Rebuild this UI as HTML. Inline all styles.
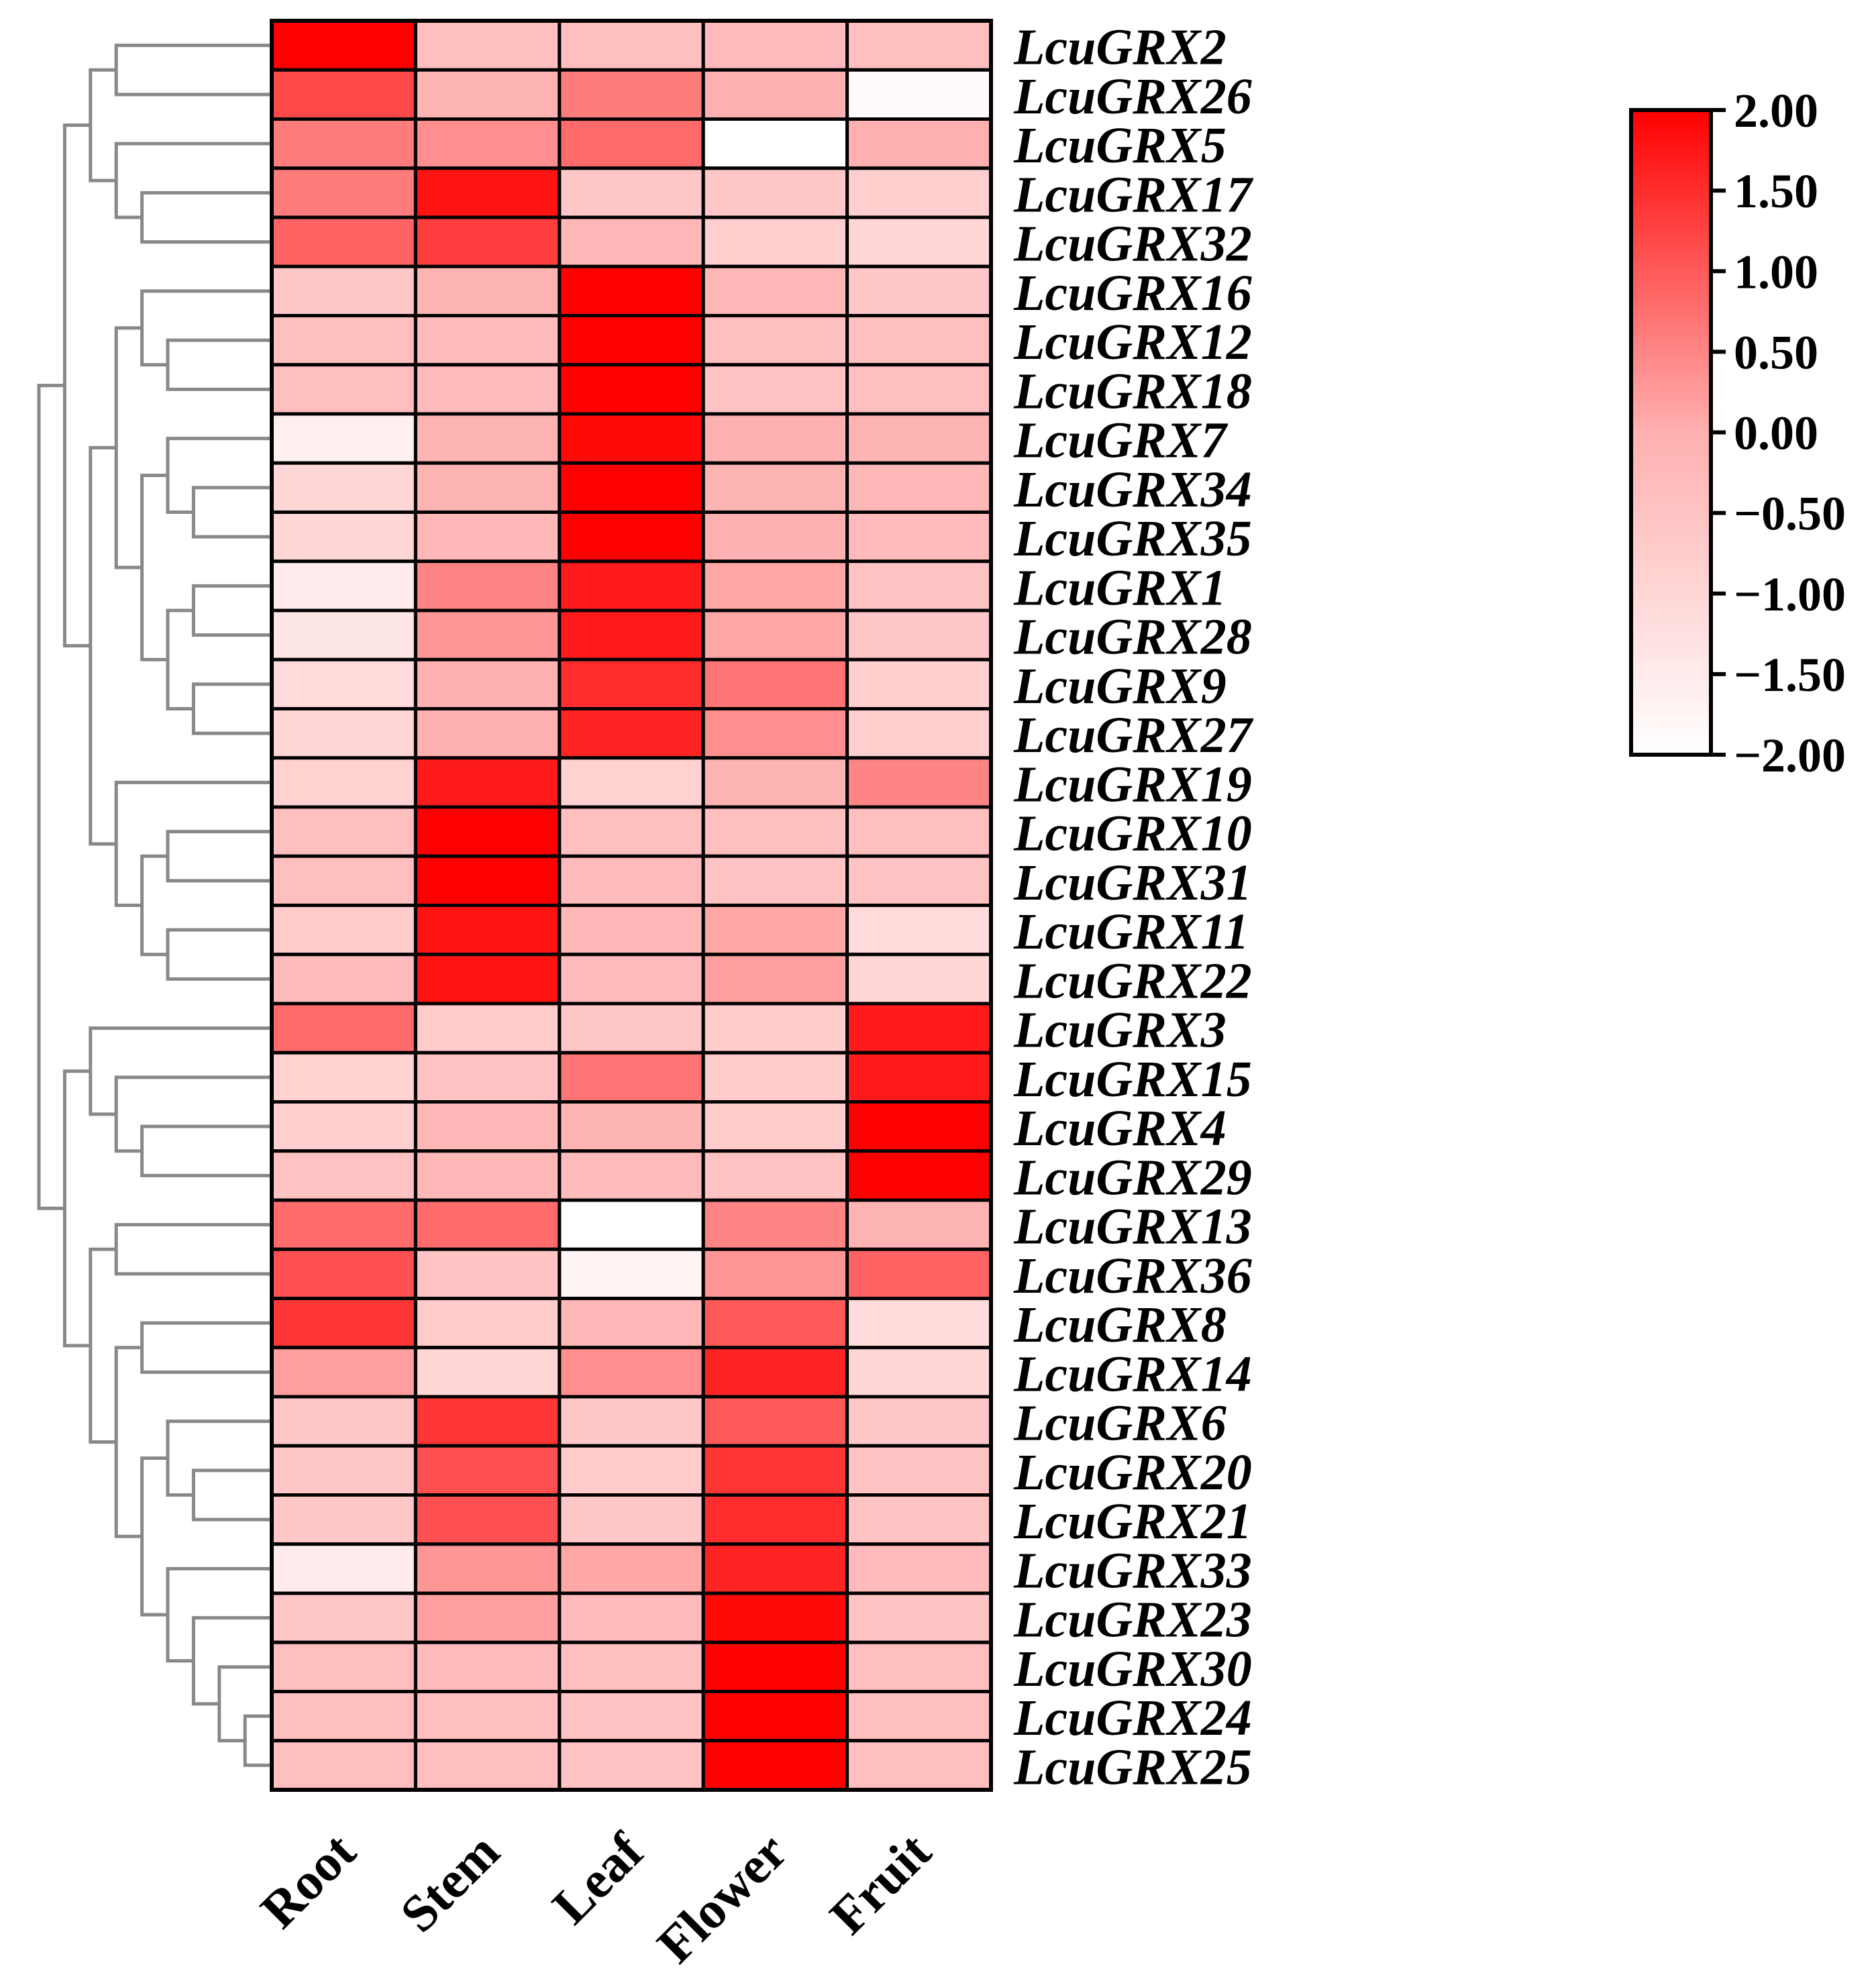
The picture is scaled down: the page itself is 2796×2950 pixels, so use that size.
<!DOCTYPE html>
<html><head><meta charset="utf-8"><style>
html,body{margin:0;padding:0;background:#fff;}
svg{display:block;}
</style></head><body>
<svg id="chart" width="2796" height="2950" viewBox="0 0 2796 2950" xmlns="http://www.w3.org/2000/svg">
<defs><linearGradient id="cbgrad" x1="0" y1="1" x2="0" y2="0">
<stop offset="0" stop-color="#ffffff"/><stop offset="0.25" stop-color="#ffd6d6"/><stop offset="0.5" stop-color="#ffb0b0"/><stop offset="0.75" stop-color="#ff5a5a"/><stop offset="1" stop-color="#ff0000"/>
</linearGradient></defs>
<g id="dendro"></g>
<g id="cells"></g>
<g id="rowlabels"></g>
<g id="collabels"></g>
<g id="colorbar"></g>
</svg>
<script>
const genes = ["LcuGRX2","LcuGRX26","LcuGRX5","LcuGRX17","LcuGRX32","LcuGRX16","LcuGRX12","LcuGRX18","LcuGRX7","LcuGRX34","LcuGRX35","LcuGRX1","LcuGRX28","LcuGRX9","LcuGRX27","LcuGRX19","LcuGRX10","LcuGRX31","LcuGRX11","LcuGRX22","LcuGRX3","LcuGRX15","LcuGRX4","LcuGRX29","LcuGRX13","LcuGRX36","LcuGRX8","LcuGRX14","LcuGRX6","LcuGRX20","LcuGRX21","LcuGRX33","LcuGRX23","LcuGRX30","LcuGRX24","LcuGRX25"];
const tissues = ["Root","Stem","Leaf","Flower","Fruit"];
const rootVals   = [2.0,1.2,0.6,0.6,0.9,-0.6,-0.4,-0.4,-1.6,-1.0,-1.0,-1.5,-1.4,-1.1,-1.0,-0.9,-0.4,-0.4,-0.7,-0.3,0.8,-0.9,-0.8,-0.5,0.8,1.1,1.4,0.2,-0.6,-0.6,-0.6,-1.5,-0.6,-0.4,-0.4,-0.4];
const stemVals   = [-0.4,-0.1,0.4,1.8,1.3,-0.1,-0.3,-0.3,-0.1,-0.1,-0.2,0.5,0.3,0.0,0.0,1.7,2.0,2.0,1.8,1.8,-0.7,-0.5,-0.2,-0.2,0.8,-0.5,-0.7,-1.0,1.4,1.1,1.1,0.3,0.2,-0.3,-0.4,-0.4];
const leafVals   = [-0.4,0.6,0.8,-0.6,-0.2,2.0,2.0,2.0,1.9,2.0,2.0,1.7,1.7,1.5,1.6,-0.9,-0.4,-0.3,-0.2,-0.3,-0.6,0.7,-0.1,-0.3,-2.0,-1.7,-0.2,0.4,-0.6,-0.7,-0.6,0.1,-0.3,-0.4,-0.5,-0.5];
const flowerVals = [-0.3,0.0,-2.0,-0.6,-0.8,-0.2,-0.4,-0.5,0.0,-0.1,0.0,0.1,0.1,0.7,0.4,-0.1,-0.4,-0.5,0.1,0.2,-0.7,-0.7,-0.7,-0.5,0.5,0.3,1.0,1.6,1.0,1.4,1.5,1.6,1.9,2.0,2.0,2.0];
const fruitVals  = [-0.4,-1.9,0.0,-0.8,-1.0,-0.6,-0.4,-0.4,-0.1,-0.2,-0.3,-0.5,-0.6,-0.8,-0.8,0.5,-0.4,-0.5,-1.1,-1.0,1.7,1.7,2.0,2.0,-0.1,0.9,-1.1,-1.0,-0.6,-0.5,-0.5,-0.3,-0.5,-0.4,-0.4,-0.4];
const tickVals = [2,1.5,1,0.5,0,-0.5,-1,-1.5,-2];
const tickLabels = ["2.00","1.50","1.00","0.50","0.00","\u22120.50","\u22121.00","\u22121.50","\u22122.00"];
// dendrogram: [level, left, right]; leaves are row indices
const tree = [0,
 [1,[2,[3,0,1],[3,2,[4,3,4]]],
    [2,[3,[4,5,[5,6,7]],[4,[5,8,[6,9,10]],[5,[6,11,12],[6,13,14]]]],
       [3,15,[4,[5,16,17],[5,18,19]]]]],
 [1,[2,20,[3,21,[4,22,23]]],
    [2,[3,24,25],[3,[4,26,27],[4,[5,28,[6,29,30]],[5,31,[6,32,[7,33,[8,34,35]]]]]]]]];

const NS="http://www.w3.org/2000/svg";
const hmL=405,hmR=1477,hmT=31,hmB=2668;
const nR=genes.length,nC=tissues.length;
const rh=(hmB-hmT)/nR, cw=(hmR-hmL)/nC;
const yOf=i=>hmT+rh*(i+0.5);
const xOf=j=>hmL+cw*(j+0.5);
const dX=lv=>58+lv*38.4;
const stops=[[-2,[255,255,255]],[-1,[255,214,214]],[0,[255,176,176]],[1,[255,90,90]],[2,[255,0,0]]];
function color(v){v=Math.max(-2,Math.min(2,v));for(let k=0;k<stops.length-1;k++){const a=stops[k],b=stops[k+1];if(v<=b[0]){const t=(v-a[0])/(b[0]-a[0]);const c=a[1].map((x,q)=>Math.round(x+(b[1][q]-x)*t));return `rgb(${c[0]},${c[1]},${c[2]})`;}}return "rgb(255,0,0)";}
function mk(tag,attrs,parent){const e=document.createElementNS(NS,tag);for(const k in attrs)e.setAttribute(k,attrs[k]);parent.appendChild(e);return e;}
const series=[rootVals,stemVals,leafVals,flowerVals,fruitVals];
const gC=document.getElementById('cells');
for(let i=0;i<nR;i++)for(let j=0;j<nC;j++){
 const r=mk('rect',{x:hmL+cw*j,y:hmT+rh*i,width:cw,height:rh,fill:color(series[j][i]),stroke:'#000','stroke-width':5},gC);
 
 
}
const outer=mk('rect',{x:hmL,y:hmT,width:hmR-hmL,height:hmB-hmT,fill:'none',stroke:'#000','stroke-width':6},gC);


const gL=document.getElementById('rowlabels');
genes.forEach((g,i)=>{const t=mk('text',{x:1511,y:yOf(i)+28,'font-family':'"Liberation Serif",serif','font-size':76,'font-weight':'bold','font-style':'italic',fill:'#000'},gL);t.textContent=g;
 
 });
const gX=document.getElementById('collabels');
tissues.forEach((c,j)=>{const x=xOf(j)+22,y=2765;const t=mk('text',{x:x,y:y,'text-anchor':'end','font-family':'"Liberation Serif",serif','font-size':78,'font-weight':'bold',fill:'#000',transform:`rotate(-45 ${x} ${y})`},gX);t.textContent=c;
 
 });
const gD=document.getElementById('dendro');
function draw(n){if(typeof n==='number')return{y:yOf(n),x:hmL};
 const a=draw(n[1]),b=draw(n[2]),x=dX(n[0]);
 const p=mk('path',{d:`M${a.x},${a.y}H${x}V${b.y}H${b.x}`,fill:'none',stroke:'#888','stroke-width':5},gD);
 
 
 return{x:x,y:(a.y+b.y)/2};}
const dendroRoot=draw(tree);
const gB=document.getElementById('colorbar');
const cbT=164,cbB=1125,cbL=2431,cbR=2550;
const bar=mk('rect',{x:cbL,y:cbT,width:cbR-cbL,height:cbB-cbT,fill:'url(#cbgrad)',stroke:'#000','stroke-width':6},gB);


const cbY=v=>cbB-(v+2)/4*(cbB-cbT);
tickVals.forEach((v,k)=>{const y=cbY(v);
 const ln=mk('line',{x1:cbR,x2:cbR+22,y1:y,y2:y,stroke:'#000','stroke-width':6},gB);
 
 
 const t=mk('text',{x:2584,y:y+25,'font-family':'"Liberation Serif",serif','font-size':72,'font-weight':'bold',fill:'#000'},gB);t.textContent=tickLabels[k];
 
 });
</script>
</body></html>
